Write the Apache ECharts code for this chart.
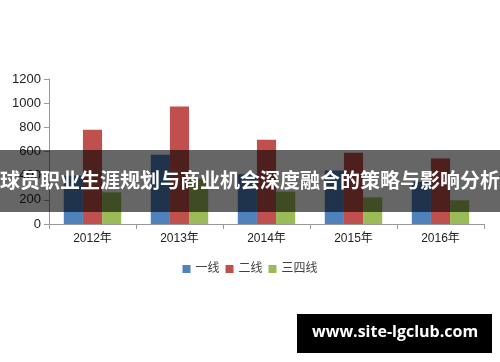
<!DOCTYPE html>
<html>
<head>
<meta charset="utf-8">
<script src="https://cdn.jsdelivr.net/npm/echarts@6/dist/echarts.min.js"></script>
<style>html,body{margin:0;padding:0;background:#fff}#c{width:500px;height:362px}</style>
</head>
<body>
<div id="c"></div>
<script>
var categories = ['2012年', '2013年', '2014年', '2015年', '2016年'];
var seriesNames = ['一线', '二线', '三四线'];
var tier1 = [400, 573, 412, 443, 350];
var tier2 = [780, 972, 698, 590, 542];
var tier34 = [262, 375, 268, 220, 196];
var yTicks = [0, 200, 400, 600, 800, 1000, 1200];
var titleText = '球员职业生涯规划与商业机会深度融合的策略与影响分析';
var watermark = 'www.site-lgclub.com';

var chart = echarts.init(document.getElementById('c'), null, {renderer: 'canvas'});
var font = '"Liberation Sans", "Noto Sans CJK SC", sans-serif';
chart.setOption({
  animation: false,
  color: ['#4F81BD', '#C0504D', '#9BBB59'],
  grid: {left: 49, right: 16, top: 79, bottom: 138, containLabel: false},
  legend: {
    data: seriesNames, bottom: 82, left: 'center', icon: 'rect',
    itemWidth: 8, itemHeight: 8, itemGap: 6,
    textStyle: {fontSize: 12, color: '#404040', fontFamily: font}
  },
  xAxis: {
    type: 'category', data: categories,
    axisLine: {lineStyle: {color: '#999'}},
    axisTick: {show: true, length: 5, lineStyle: {color: '#999'}},
    axisLabel: {fontSize: 12, color: '#222', margin: 9, fontFamily: font}
  },
  yAxis: {
    type: 'value', min: yTicks[0], max: yTicks[yTicks.length - 1], interval: 200,
    axisLine: {show: true, lineStyle: {color: '#999'}},
    axisTick: {show: true, length: 5, lineStyle: {color: '#999'}},
    splitLine: {show: false},
    axisLabel: {fontSize: 13, color: '#222', margin: 8, fontFamily: font,
      formatter: function (v) { return String(v); }}
  },
  series: [
    {name: seriesNames[0], type: 'bar', data: tier1, barGap: '0%', barCategoryGap: '34%'},
    {name: seriesNames[1], type: 'bar', data: tier2, barGap: '0%', barCategoryGap: '34%'},
    {name: seriesNames[2], type: 'bar', data: tier34, barGap: '0%', barCategoryGap: '34%'}
  ],
  graphic: [
    {type: 'rect', z: 100, left: 0, top: 150, shape: {width: 500, height: 62}, style: {fill: 'rgba(0,0,0,0.6)'}},
    {type: 'text', z: 101, left: 'center', top: 170, style: {text: titleText, fill: '#fff', font: 'bold 20px "Noto Sans CJK SC", sans-serif'}},
    {type: 'rect', z: 100, left: 297, top: 314, shape: {width: 195, height: 39}, style: {fill: '#000'}},
    {type: 'text', z: 101, left: 312, top: 324, style: {text: watermark, fill: '#fff', font: 'bold 16px "Open Sans", "DejaVu Sans", sans-serif'}}
  ]
});
</script>
</body>
</html>
